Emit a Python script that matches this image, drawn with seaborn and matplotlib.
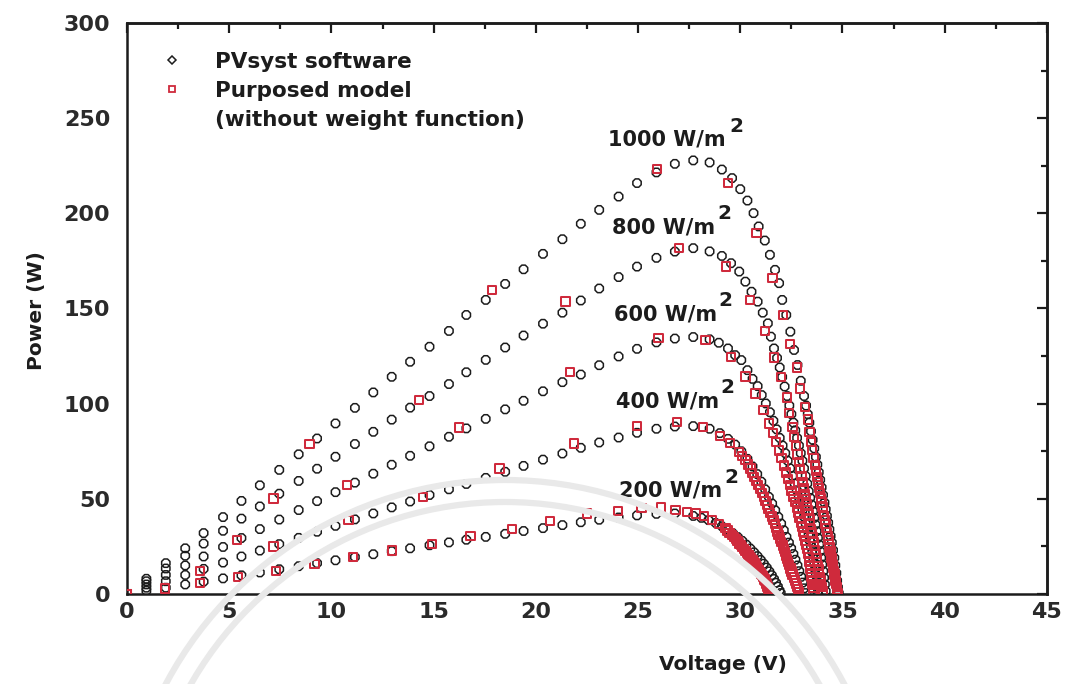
import matplotlib
matplotlib.use("Agg")
import matplotlib.pyplot as plt
from matplotlib.lines import Line2D
from matplotlib.patches import Arc
from matplotlib.transforms import IdentityTransform
from matplotlib.ticker import MultipleLocator
import pandas as pd
import seaborn as sns

# ---------------------------------------------------------------- data
irradiances = [1000, 800, 600, 400, 200]
curve_labels = ["1000 W/m", "800 W/m", "600 W/m", "400 W/m", "200 W/m"]

# PVsyst export: common voltage grid on the rising part of every P-V curve
v_rise = [0.95, 1.9, 2.85, 3.75, 4.7, 5.6, 6.5, 7.45, 8.4, 9.3, 10.2, 11.15,
          12.05, 12.95, 13.85, 14.8, 15.75, 16.6, 17.55, 18.5, 19.4, 20.35,
          21.3, 22.2, 23.1, 24.05, 24.95, 25.9, 26.8, 27.7]

pv_rise_1000 = [8.0, 16.2, 24.0, 32.0, 40.4, 48.9, 57.1, 65.2, 73.4, 81.7, 89.6,
                97.8, 105.9, 114.1, 122.0, 129.9, 138.2, 146.6, 154.5, 162.9,
                170.6, 178.7, 186.4, 194.5, 201.8, 208.8, 215.9, 221.5, 226.0, 227.8]
pv_rise_800 = [6.7, 13.4, 20.1, 26.5, 33.2, 39.6, 46.0, 52.7, 59.4, 65.8, 72.1,
               78.8, 85.2, 91.6, 97.9, 104.0, 110.3, 116.5, 123.0, 129.5, 135.8,
               142.0, 147.8, 154.2, 160.5, 166.5, 172.0, 176.6, 179.9, 181.7]
pv_rise_600 = [5.0, 10.0, 15.0, 19.7, 24.7, 29.4, 34.1, 39.1, 44.1, 48.8, 53.5,
               58.5, 63.2, 67.9, 72.6, 77.6, 82.6, 87.0, 92.0, 97.0, 101.5,
               106.5, 111.3, 115.3, 120.2, 124.8, 128.8, 132.2, 134.2, 135.0]
pv_rise_400 = [3.3, 6.7, 10.0, 13.2, 16.5, 19.7, 22.8, 26.2, 29.5, 32.7, 35.8,
               39.2, 42.3, 45.5, 48.6, 52.0, 55.0, 57.8, 61.0, 64.2, 67.3, 70.6,
               73.8, 76.8, 79.6, 82.2, 84.7, 86.8, 88.0, 88.2]
pv_rise_200 = [1.7, 3.3, 5.0, 6.5, 8.2, 9.8, 11.3, 13.0, 14.6, 16.2, 17.7, 19.4,
               20.9, 22.5, 24.0, 25.6, 27.1, 28.5, 30.0, 31.6, 33.1, 34.6, 36.2,
               37.7, 39.0, 40.2, 41.3, 42.1, 42.3, 41.0]

# PVsyst export: (V, P) past the maximum power point
pv_knee_1000 = [(28.5, 226.7), (29.1, 223.0), (29.6, 218.5), (30.0, 212.7),
                (30.35, 206.7), (30.65, 200.1), (30.9, 193.1), (31.2, 185.7),
                (31.45, 178.2), (31.7, 170.3), (31.9, 163.3), (32.05, 154.5),
                (32.25, 146.6), (32.45, 137.8), (32.63, 128.2), (32.8, 120.3),
                (32.96, 112.0), (33.12, 104.0), (33.22, 99.0), (33.3, 94.5),
                (33.38, 90.0), (33.46, 85.5), (33.54, 81.0), (33.62, 76.5),
                (33.7, 72.0), (33.77, 68.0), (33.84, 64.0), (33.91, 60.0),
                (33.98, 56.0), (34.05, 52.0), (34.12, 48.0), (34.18, 44.5),
                (34.24, 41.0), (34.3, 37.5), (34.36, 34.0), (34.42, 30.5),
                (34.48, 27.0), (34.54, 23.0), (34.6, 19.0), (34.65, 15.0),
                (34.7, 11.0), (34.74, 7.0), (34.78, 3.5), (34.82, 0.5)]
pv_knee_800 = [(28.5, 180.0), (29.1, 177.6), (29.55, 173.8), (29.95, 169.4),
               (30.25, 164.1), (30.55, 158.8), (30.85, 153.6), (31.1, 147.8),
               (31.35, 142.2), (31.5, 135.2), (31.65, 129.0), (31.8, 124.0),
               (31.93, 119.0), (32.05, 114.0), (32.17, 109.0), (32.29, 104.0),
               (32.4, 99.0), (32.5, 94.5), (32.6, 90.0), (32.69, 86.0),
               (32.78, 82.0), (32.87, 78.0), (32.96, 74.0), (33.04, 70.0),
               (33.12, 66.0), (33.2, 62.0), (33.28, 58.0), (33.35, 54.0),
               (33.42, 50.5), (33.49, 47.0), (33.56, 43.5), (33.62, 40.0),
               (33.68, 36.5), (33.74, 33.0), (33.8, 29.5), (33.86, 26.0),
               (33.91, 22.5), (33.96, 19.0), (34.01, 15.5), (34.06, 12.0),
               (34.1, 8.5), (34.14, 5.0), (34.18, 1.5)]
pv_knee_600 = [(28.5, 133.8), (28.95, 132.0), (29.4, 129.0), (29.75, 125.5),
               (30.05, 122.9), (30.35, 117.6), (30.6, 113.0), (30.85, 109.2),
               (31.05, 104.5), (31.25, 100.1), (31.45, 95.5), (31.62, 91.0),
               (31.78, 86.5), (31.93, 82.0), (32.07, 78.0), (32.2, 74.0),
               (32.32, 70.0), (32.44, 66.0), (32.55, 62.0), (32.66, 58.0),
               (32.76, 54.5), (32.86, 51.0), (32.95, 47.5), (33.04, 44.0),
               (33.12, 40.5), (33.2, 37.0), (33.27, 34.0), (33.34, 31.0),
               (33.4, 28.0), (33.46, 25.0), (33.52, 22.0), (33.57, 19.0),
               (33.62, 16.0), (33.66, 13.0), (33.7, 10.0), (33.74, 7.0),
               (33.77, 4.0), (33.8, 1.0)]
pv_knee_400 = [(28.5, 86.8), (29.0, 84.5), (29.4, 81.5), (29.75, 78.5),
               (30.05, 75.0), (30.35, 71.0), (30.6, 67.0), (30.83, 63.0),
               (31.03, 59.0), (31.22, 55.0), (31.4, 51.0), (31.56, 47.5),
               (31.71, 44.0), (31.86, 40.5), (32.0, 37.0), (32.13, 33.5),
               (32.26, 30.0), (32.38, 27.0), (32.49, 24.0), (32.6, 21.0),
               (32.7, 18.0), (32.8, 15.0), (32.89, 12.0), (32.98, 9.0),
               (33.06, 6.0), (33.13, 3.0), (33.19, 0.5)]
pv_knee_200 = [(28.1, 40.0), (28.45, 38.8), (28.8, 37.3), (29.1, 35.6),
               (29.38, 33.8), (29.64, 31.9), (29.88, 29.9), (30.1, 27.9),
               (30.3, 25.9), (30.49, 23.9), (30.67, 21.9), (30.84, 19.9),
               (31.0, 17.9), (31.15, 15.9), (31.29, 13.9), (31.42, 11.9),
               (31.54, 9.9), (31.65, 7.9), (31.75, 5.9), (31.84, 3.9),
               (31.92, 1.9), (31.98, 0.5)]

# proposed model (without weight function): (V, P)
model_1000 = [(0.0, 0.0), (8.93, 78.7), (17.86, 159.7), (25.94, 223.3),
              (29.4, 215.9), (30.8, 189.6), (31.57, 165.9), (32.1, 146.6),
              (32.43, 131.5), (32.76, 119.0), (32.92, 108.0), (33.18, 98.3),
              (33.3, 91.7), (33.38, 85.2), (33.45, 79.9), (33.52, 75.5),
              (33.59, 71.5), (33.65, 67.9), (33.71, 64.6), (33.76, 61.5),
              (33.81, 58.6), (33.85, 55.8), (33.9, 53.1), (33.94, 50.5),
              (33.98, 48.0), (34.02, 45.6), (34.06, 43.3), (34.1, 41.0),
              (34.14, 38.8), (34.17, 36.6), (34.21, 34.5), (34.24, 32.4),
              (34.28, 30.4), (34.31, 28.4), (34.34, 26.4), (34.37, 24.5),
              (34.41, 22.6), (34.44, 20.7), (34.47, 18.9), (34.5, 17.1),
              (34.53, 15.3), (34.55, 13.6), (34.58, 11.9), (34.61, 10.2),
              (34.63, 8.5), (34.66, 6.9), (34.69, 5.3), (34.72, 3.7),
              (34.74, 2.1), (34.77, 0.6)]
model_800 = [(0.0, 0.0), (7.17, 50.1), (14.27, 101.8), (21.45, 153.6),
             (27.0, 181.7), (29.3, 172.0), (30.47, 154.5), (31.2, 138.2),
             (31.65, 124.3), (31.98, 114.1), (32.27, 103.3), (32.39, 95.2),
             (32.55, 87.8), (32.64, 82.5), (32.72, 77.7), (32.8, 73.3),
             (32.87, 69.3), (32.93, 65.6), (32.99, 62.1), (33.05, 58.8),
             (33.1, 55.7), (33.15, 52.7), (33.2, 49.8), (33.25, 47.0),
             (33.29, 44.3), (33.34, 41.7), (33.38, 39.2), (33.42, 36.7),
             (33.46, 34.3), (33.5, 31.9), (33.54, 29.6), (33.58, 27.4),
             (33.62, 25.2), (33.66, 23.0), (33.69, 20.9), (33.73, 18.8),
             (33.76, 16.8), (33.8, 14.8), (33.83, 12.8), (33.86, 10.9),
             (33.9, 9.0), (33.93, 7.1), (33.96, 5.3), (33.99, 3.5),
             (34.02, 1.7), (34.05, 0.2)]
model_600 = [(0.0, 0.0), (5.37, 28.2), (10.76, 57.1), (16.23, 87.5),
             (21.66, 116.7), (26.0, 134.5), (28.3, 133.4), (29.56, 124.6),
             (30.26, 114.3), (30.75, 105.4), (31.13, 96.6), (31.41, 89.6),
             (31.6, 84.5), (31.76, 79.8), (31.9, 75.4), (32.02, 71.3),
             (32.13, 67.5), (32.23, 63.9), (32.33, 60.5), (32.42, 57.3),
             (32.51, 54.2), (32.6, 51.2), (32.68, 48.3), (32.76, 45.5),
             (32.83, 42.8), (32.9, 40.2), (32.96, 37.6), (33.02, 35.1),
             (33.08, 32.7), (33.13, 30.3), (33.18, 28.0), (33.23, 25.7),
             (33.27, 23.5), (33.31, 21.3), (33.35, 19.2), (33.38, 17.1),
             (33.41, 15.0), (33.44, 13.0), (33.47, 11.0), (33.49, 9.0),
             (33.51, 7.1), (33.53, 5.2), (33.55, 3.4), (33.57, 1.6),
             (33.58, 0.2)]
model_400 = [(0.0, 0.0), (3.57, 12.0), (7.17, 25.0), (10.84, 38.7),
             (14.48, 51.0), (18.23, 65.9), (21.86, 79.0), (24.96, 88.2),
             (26.92, 90.4), (28.19, 87.8), (29.0, 82.9), (29.5, 79.4),
             (29.94, 74.6), (30.1, 72.4), (30.26, 70.3), (30.38, 68.1),
             (30.5, 65.9), (30.59, 63.7), (30.67, 61.5), (30.78, 59.3),
             (30.88, 57.2), (30.97, 55.1), (31.07, 53.0), (31.16, 50.9),
             (31.23, 48.8), (31.3, 46.7), (31.38, 44.7), (31.47, 42.7),
             (31.56, 40.7), (31.63, 38.7), (31.69, 36.7), (31.75, 34.8),
             (31.82, 32.9), (31.87, 31.0), (31.93, 29.1), (32.0, 27.3),
             (32.08, 25.5), (32.13, 23.7), (32.18, 21.9), (32.23, 20.2),
             (32.28, 18.5), (32.33, 16.8), (32.39, 15.1), (32.45, 13.4),
             (32.51, 11.8), (32.56, 10.2), (32.62, 8.6), (32.67, 7.0),
             (32.72, 5.5), (32.77, 4.0), (32.82, 2.5), (32.86, 1.0)]
model_200 = [(0.0, 0.0), (1.86, 2.9), (3.57, 5.9), (5.42, 8.9), (7.3, 12.0),
             (9.17, 15.9), (11.05, 19.4), (12.96, 22.9), (14.92, 26.4),
             (16.8, 30.3), (18.84, 34.3), (20.68, 38.3), (22.51, 42.2),
             (24.01, 43.6), (25.17, 45.2), (26.13, 45.4), (26.84, 44.3),
             (27.38, 43.1), (27.82, 42.2), (28.22, 40.8), (28.63, 39.0),
             (28.96, 36.9), (29.28, 34.6), (29.38, 33.4), (29.48, 32.2),
             (29.59, 31.0), (29.69, 29.9), (29.78, 28.8), (29.86, 27.7),
             (29.94, 26.6), (30.02, 25.6), (30.1, 24.6), (30.18, 23.6),
             (30.26, 22.6), (30.33, 21.6), (30.41, 20.6), (30.48, 19.6),
             (30.54, 18.7), (30.6, 17.8), (30.65, 16.9), (30.71, 16.0),
             (30.77, 15.1), (30.83, 14.2), (30.88, 13.3), (30.93, 12.4),
             (30.97, 11.6), (31.02, 10.8), (31.06, 10.0), (31.11, 9.2),
             (31.15, 8.4), (31.18, 7.6), (31.22, 6.8), (31.25, 6.0),
             (31.28, 5.2), (31.31, 4.4), (31.34, 3.6), (31.37, 2.8),
             (31.39, 2.0), (31.42, 1.2), (31.45, 0.4)]

pv_rise = [pv_rise_1000, pv_rise_800, pv_rise_600, pv_rise_400, pv_rise_200]
pv_knee = [pv_knee_1000, pv_knee_800, pv_knee_600, pv_knee_400, pv_knee_200]
model = [model_1000, model_800, model_600, model_400, model_200]

# ---------------------------------------------------------------- tables
pv_rows, model_rows = [], []
for g, rise, knee, mod in zip(irradiances, pv_rise, pv_knee, model):
    pv_rows += [(g, v, p) for v, p in zip(v_rise, rise)]
    pv_rows += [(g, v, p) for v, p in knee]
    model_rows += [(g, v, p) for v, p in mod]
pv_df = pd.DataFrame(pv_rows, columns=["G", "Voltage", "Power"])
model_df = pd.DataFrame(model_rows, columns=["G", "Voltage", "Power"])

# ---------------------------------------------------------------- style
RED = "#cf2a3c"
INK = "#1c1c1c"
sns.set_theme(style="white")
plt.rcParams["font.family"] = ["DejaVu Sans"]
plt.rcParams["font.weight"] = "bold"
plt.rcParams["axes.labelweight"] = "bold"

fig = plt.figure(figsize=(10.66, 6.84), dpi=100)
ax = fig.add_axes([0.1191, 0.1316, 0.8630, 0.8348])
ax.set_facecolor("none")

# faint seal printed behind the page content
for radius in (384, 362):
    fig.patches.append(Arc((505, 684 - 864), 2 * radius, 2 * radius,
                           theta1=22, theta2=158, lw=4.5, color="#e9e9e9",
                           transform=IdentityTransform(), zorder=0))

sns.scatterplot(data=pv_df, x="Voltage", y="Power", marker="8", s=42,
                facecolor="none", edgecolor=INK, linewidth=1.1,
                legend=False, ax=ax, zorder=2)
sns.scatterplot(data=model_df, x="Voltage", y="Power", marker="s", s=36,
                facecolor="none", edgecolor=RED, linewidth=1.45,
                legend=False, ax=ax, zorder=3)

ax.set_xlim(0, 45)
ax.set_ylim(0, 300)
ax.xaxis.set_major_locator(MultipleLocator(5))
ax.xaxis.set_minor_locator(MultipleLocator(2.5))
ax.yaxis.set_major_locator(MultipleLocator(50))
ax.yaxis.set_minor_locator(MultipleLocator(25))
ax.tick_params(which="major", direction="in", length=7, width=1.6,
               color=INK, labelsize=16, labelcolor="#2a2a2a", pad=6)
ax.tick_params(which="minor", direction="out", length=5, width=1.6, color=INK)
ax.tick_params(axis="y", which="major", pad=12)
for lab in ax.get_xticklabels() + ax.get_yticklabels():
    lab.set_fontweight("bold")
for sp in ax.spines.values():
    sp.set_linewidth(1.8)
    sp.set_color(INK)

# inward ticks on the top and right frame
top = ax.secondary_xaxis("top")
top.xaxis.set_major_locator(MultipleLocator(5))
top.xaxis.set_minor_locator(MultipleLocator(2.5))
top.tick_params(which="major", direction="in", length=7, width=1.6,
                color=INK, labeltop=False)
top.tick_params(which="minor", direction="in", length=4, width=1.6, color=INK)
right = ax.secondary_yaxis("right")
right.yaxis.set_major_locator(MultipleLocator(50))
right.yaxis.set_minor_locator(MultipleLocator(25))
right.tick_params(which="major", direction="in", length=7, width=1.6,
                  color=INK, labelright=False)
right.tick_params(which="minor", direction="in", length=4, width=1.6, color=INK)
for sec in (top, right):
    for sp in sec.spines.values():
        sp.set_linewidth(1.8)
        sp.set_color(INK)

ax.set_xlabel("Voltage (V)", fontsize=14.5, fontweight="bold", color=INK)
ax.set_ylabel("Power (W)", fontsize=14.5, fontweight="bold", color=INK)
ax.xaxis.set_label_coords(0.648, -0.106)
ax.yaxis.set_label_coords(-0.088, 0.497)

# irradiance tags with a raised exponent
tag_pos = [(23.55, 238.7), (23.75, 192.4), (23.8, 146.6), (23.9, 101.3), (24.05, 54.5)]
exp_pos = [(29.82, 245.5), (29.24, 199.7), (29.28, 154.0), (29.38, 108.7), (29.58, 61.3)]
for lab, (tx, ty), (ex, ey) in zip(curve_labels, tag_pos, exp_pos):
    ax.text(tx, ty, lab, fontsize=15, fontweight="bold", color=INK,
            ha="left", va="center", zorder=4)
    ax.text(ex, ey, "2", fontsize=14.5, fontweight="bold", color=INK,
            ha="center", va="center", zorder=4)

handles = [
    Line2D([], [], ls="", marker="D", ms=4.5, mfc="none", mec=INK, mew=1.1),
    Line2D([], [], ls="", marker="s", ms=4.5, mfc="none", mec=RED, mew=1.3),
    Line2D([], [], ls="", marker=""),
]
ax.legend(handles, ["PVsyst software", "Purposed model", "(without weight function)"],
          loc="upper left", bbox_to_anchor=(0.0376, 0.950), frameon=False,
          handlelength=1.0, handletextpad=1.5, labelspacing=0.42,
          borderpad=0, borderaxespad=0,
          prop={"weight": "bold", "size": 15.5})
for t in ax.get_legend().get_texts():
    t.set_color(INK)

fig.savefig("out.png", dpi=100, facecolor="white")
